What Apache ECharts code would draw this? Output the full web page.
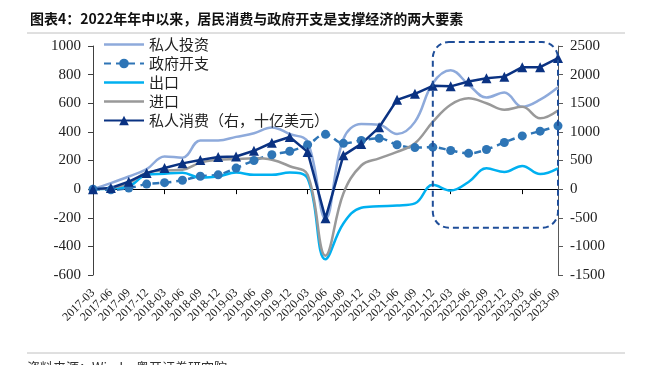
<!DOCTYPE html>
<html>
<head>
<meta charset="utf-8">
<script src="https://cdn.jsdelivr.net/npm/echarts@6/dist/echarts.min.js"></script>
<style>
html,body{margin:0;padding:0;background:#fff;}
#c{width:646px;height:365px;}
</style>
</head>
<body>
<div id="c"></div>
<script>
const categories = ['2017-03','2017-06','2017-09','2017-12','2018-03','2018-06','2018-09','2018-12','2019-03','2019-06','2019-09','2019-12','2020-03','2020-06','2020-09','2020-12','2021-03','2021-06','2021-09','2021-12','2022-03','2022-06','2022-09','2022-12','2023-03','2023-06','2023-09'];
const privInv   = [0, 42, 88, 140, 228, 220, 340, 340, 365, 390, 430, 385, 330, -205, 350, 455, 450, 385, 470, 740, 830, 730, 640, 675, 575, 625, 712];
const govSpend  = [0, -5, 7, 35, 45, 62, 90, 100, 147, 200, 240, 265, 310, 383, 320, 340, 355, 310, 290, 293, 270, 250, 277, 326, 372, 405, 442];
const exportsV  = [0, 5, 20, 100, 108, 114, 80, 88, 116, 100, 100, 116, 75, -490, -240, -130, -120, -115, -100, 30, -10, 50, 145, 120, 162, 105, 145];
const importsV  = [0, 7, 42, 115, 130, 135, 185, 205, 210, 215, 205, 160, 100, -465, -30, 165, 215, 260, 320, 470, 590, 635, 600, 555, 575, 495, 550];
const consumption = [0, 20, 130, 280, 370, 450, 510, 560, 570, 670, 810, 910, 650, -510, 590, 790, 1080, 1560, 1665, 1805, 1795, 1880, 1935, 1965, 2130, 2130, 2290];
const seriesNames = ['私人投资','政府开支','出口','进口','私人消费（右，十亿美元）'];
const titleText = '图表4：2022年年中以来，居民消费与政府开支是支撑经济的两大要素';
const sourceText = '资料来源：Wind，粤开证券研究院';
// highlight box bounds (annotation)
const boxFrom = '2021-12', boxTo = '2023-09', boxTopRight = 2570, boxBottomLeft = -270;

const serif = 'Liberation Serif, Times New Roman, serif';
const cjk = 'Noto Sans CJK SC, sans-serif';
const lineIcon = 'path://M0,0 L40,0 L40,2.5 L0,2.5 Z';
const chart = echarts.init(document.getElementById('c'), null, {renderer:'canvas'});
const option = {
  animation: false,
  backgroundColor: '#fff',
  title: {text: titleText, left: 25, top: 7, textStyle:{fontSize:14, fontWeight:'bold', fontFamily: cjk, color:'#111'}},
  legend: {
    orient:'vertical', left: 98, top: 32, itemWidth: 40, itemHeight: 12, itemGap: 4,
    textStyle:{fontSize:15, fontFamily: cjk, color:'#222'},
    data: [
      {name: seriesNames[0], icon: lineIcon},
      {name: seriesNames[1]},
      {name: seriesNames[2], icon: lineIcon},
      {name: seriesNames[3], icon: lineIcon},
      {name: seriesNames[4]}
    ]
  },
  grid: {left: 93, right: 88, top: 46, bottom: 90, containLabel:false},
  xAxis: [
    {type:'category', data: categories, boundaryGap:false, position:'bottom',
     axisLine:{show:false}, axisTick:{show:false},
     axisLabel:{rotate:45, interval:0, fontSize:12, fontFamily: serif, color:'#222', margin:16}},
    {type:'category', data: categories, boundaryGap:false, position:'bottom',
     axisLine:{show:true, onZero:true, onZeroAxisIndex:0, lineStyle:{color:'#000', width:1}},
     axisTick:{show:true, length:5, lineStyle:{color:'#000'}},
     axisLabel:{show:false}}
  ],
  yAxis: [
    {type:'value', min:-600, max:1000, interval:200, position:'left',
     axisLine:{show:true, lineStyle:{color:'#404040', width:1}},
     axisTick:{show:true, length:5, lineStyle:{color:'#404040'}},
     splitLine:{show:false},
     axisLabel:{fontSize:15, fontFamily: serif, color:'#222', margin:12, formatter: v => String(v)}},
    {type:'value', min:-1500, max:2500, interval:500, position:'right',
     axisLine:{show:true, lineStyle:{color:'#595959', width:1}},
     axisTick:{show:true, length:5, lineStyle:{color:'#595959'}},
     splitLine:{show:false},
     axisLabel:{fontSize:15, fontFamily: serif, color:'#222', margin:12, formatter: v => String(v)}}
  ],
  series: [
    {name: seriesNames[0], type:'line', data: privInv, smooth:0.4, symbol:'none', yAxisIndex:0,
     lineStyle:{color:'#8eaadb', width:2.5}, itemStyle:{color:'#8eaadb'}},
    {name: seriesNames[1], type:'line', data: govSpend, smooth:0.4, symbol:'circle', symbolSize:9, yAxisIndex:0,
     lineStyle:{color:'#2e75b6', width:2.5, type:[7,5]}, itemStyle:{color:'#2e75b6'}},
    {name: seriesNames[2], type:'line', data: exportsV, smooth:0.4, symbol:'none', yAxisIndex:0,
     lineStyle:{color:'#00b0f0', width:2.5}, itemStyle:{color:'#00b0f0'}},
    {name: seriesNames[3], type:'line', data: importsV, smooth:0.4, symbol:'none', yAxisIndex:0,
     lineStyle:{color:'#999999', width:2.5}, itemStyle:{color:'#999999'}},
    {name: seriesNames[4], type:'line', data: consumption, smooth:false, symbol:'triangle', symbolSize:10, yAxisIndex:1,
     lineStyle:{color:'#0a3282', width:2.5}, itemStyle:{color:'#0a3282'}}
  ]
};
chart.setOption(option);

const bx1 = chart.convertToPixel({xAxisIndex:0}, boxFrom);
const bx2 = chart.convertToPixel({xAxisIndex:0}, boxTo);
const by1 = chart.convertToPixel({yAxisIndex:1}, boxTopRight);
const by2 = chart.convertToPixel({yAxisIndex:0}, boxBottomLeft);
chart.setOption({
  graphic: [
    {type:'line', shape:{x1:27, y1:33, x2:625, y2:33}, style:{stroke:'#c0c0c0', lineWidth:1}, silent:true},
    {type:'line', shape:{x1:27, y1:353, x2:625, y2:353}, style:{stroke:'#c0c0c0', lineWidth:1}, silent:true},
    {type:'text', left:27, top:361, style:{text: sourceText, fontSize:13, fontFamily: cjk, fill:'#333'}, silent:true},
    {type:'rect', shape:{x:bx1, y:by1, width:bx2-bx1, height:by2-by1, r:16},
     style:{fill:'none', stroke:'#1f4e99', lineWidth:2, lineDash:[6,4]}, z:100, silent:true}
  ]
});
</script>
</body>
</html>
